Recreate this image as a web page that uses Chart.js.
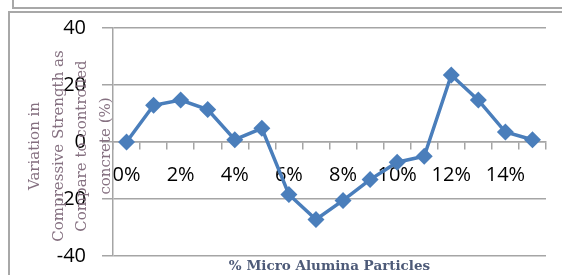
<!DOCTYPE html>
<html>
<head>
<meta charset="utf-8">
<script src="https://cdn.jsdelivr.net/npm/chart.js@4"></script>
<style>
  html, body { margin: 0; padding: 0; background: #fff; overflow: hidden; }
  .box-top { position: absolute; left: 12px; top: -10px; width: 600px; height: 15px; border: 2px solid #a8a8a8; }
  .box-main { position: absolute; left: 8px; top: 11px; width: 600px; height: 300px; border: 2px solid #a8a8a8; }
  #lineChart { position: absolute; left: 0; top: 0; }
</style>
</head>
<body>
<div class="box-top"></div>
<div class="box-main"></div>
<canvas id="lineChart" width="562" height="275"></canvas>
<script>
const categories = ["0%", "1%", "2%", "3%", "4%", "5%", "6%", "7%", "8%", "9%", "10%", "11%", "12%", "13%", "14%", "15%"];
const variation = [0, 12.9, 14.7, 11.4, 0.8, 4.8, -18.4, -27.2, -20.5, -13.2, -7.1, -5.0, 23.5, 14.7, 3.5, 0.8];
const yTicks = [-40, -20, 0, 20, 40];
const yTitleLines = ["Variation in", "Compressive Strength as", "Compare to controlled", "concrete (%)"];
const xTitle = "% Micro Alumina Particles";

const titlesPlugin = {
  id: "titles",
  afterDraw(chart) {
    const ctx = chart.ctx;
    const area = chart.chartArea;
    ctx.save();
    // y title, rotated
    ctx.font = "15px 'DejaVu Serif'";
    ctx.fillStyle = "#857080";
    ctx.textAlign = "center";
    ctx.textBaseline = "middle";
    const cy = (area.top + area.bottom) / 2 + 4;
    yTitleLines.forEach(function (line, i) {
      ctx.save();
      ctx.translate(35 + i * 23.7, cy);
      ctx.rotate(-Math.PI / 2);
      ctx.fillText(line, 0, 0);
      ctx.restore();
    });
    // x title
    ctx.font = "bold 13.5px 'DejaVu Serif'";
    ctx.fillStyle = "#4d5a78";
    ctx.fillText(xTitle, (area.left + area.right) / 2, area.bottom + 10);
    ctx.restore();
  }
};

document.addEventListener("DOMContentLoaded", function () {
  const ctx = document.getElementById("lineChart").getContext("2d");
  new Chart(ctx, {
    type: "line",
    data: {
      labels: categories,
      datasets: [
        {
          label: "Variation",
          data: variation,
          borderColor: "#4a7ebb",
          backgroundColor: "#4a7ebb",
          borderWidth: 3.5,
          pointStyle: "rectRot",
          pointRadius: 8.5,
          pointHoverRadius: 8.5,
          pointBorderWidth: 0,
          tension: 0,
        },
      ],
    },
    options: {
      responsive: false,
      animation: false,
      layout: { padding: { left: 0, right: 16, top: 28, bottom: 19 } },
      plugins: { legend: { display: false }, tooltip: { enabled: false } },
      scales: {
        x: {
          type: "category",
          position: { y: 0 },
          offset: true,
          afterFit: function (scale) {
            scale.height = 0;
            scale.paddingLeft = 0;
            scale.paddingRight = 0;
          },
          grid: {
            display: true,
            drawOnChartArea: false,
            drawTicks: true,
            tickLength: 7,
            color: "#a5a5a5",
            lineWidth: 1.5,
            offset: true,
          },
          border: { display: true, color: "#a5a5a5", width: 1.5 },
          ticks: {
            autoSkip: false,
            maxRotation: 0,
            padding: 14,
            color: "#000",
            font: { family: "'Open Sans'", size: 20 },
            callback: function (value, index) {
              return index % 2 === 0 ? categories[index] : "";
            },
          },
        },
        y: {
          min: -40,
          max: 40,
          afterBuildTicks: function (scale) {
            scale.ticks = yTicks.map(function (v) { return { value: v }; });
          },
          afterFit: function (scale) {
            scale.width = 113;
            scale.paddingTop = 0;
            scale.paddingBottom = 0;
          },
          grid: {
            color: "#a5a5a5",
            lineWidth: 1.5,
            tickLength: 11,
          },
          border: { display: true, color: "#a5a5a5", width: 1.5 },
          ticks: {
            padding: 16,
            color: "#000",
            font: { family: "'Open Sans'", size: 20 },
          },
        },
      },
    },
    plugins: [titlesPlugin],
  });
});
</script>
</body>
</html>
